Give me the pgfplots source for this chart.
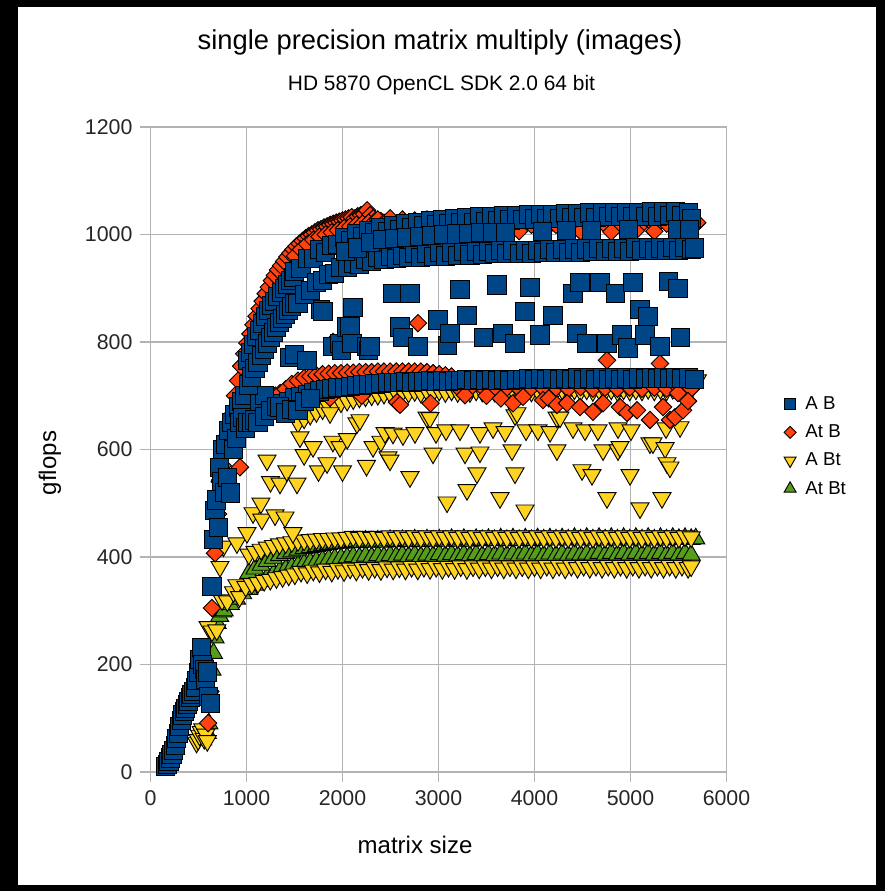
\documentclass[border=0pt]{standalone}
\usepackage{pgfplots}
\pgfplotsset{compat=1.18}
\usepackage{fontspec}
\setmainfont{Liberation Sans}
\definecolor{cAB}{HTML}{004586}
\definecolor{cAtB}{HTML}{FF420E}
\definecolor{cABt}{HTML}{FFD320}
\definecolor{cAtBt}{HTML}{579D1C}
\definecolor{gridc}{HTML}{B3B3B3}
\pgfplotsset{
 sAB/.style={only marks, mark=square*, mark size=6.8pt, mark options={fill=cAB, draw=black, line width=0.7pt}},
 sAtB/.style={only marks, mark=square*, mark size=4.6pt, mark options={rotate=45, fill=cAtB, draw=black, line width=0.7pt}},
 sABt/.style={only marks, mark=triangle*, mark size=7.8pt, mark options={rotate=180, fill=cABt, draw=black, line width=0.7pt}},
 sAtBt/.style={only marks, mark=triangle*, mark size=7.8pt, mark options={fill=cAtBt, draw=black, line width=0.7pt}},
}
\begin{document}
\begin{tikzpicture}
\fill[black] (-112.875pt,-89.25pt) rectangle (550.875pt,579pt);
\fill[white] (-99.375pt,-84.75pt) rectangle (544.125pt,573.75pt);
\begin{axis}[
 at={(0,0)}, anchor=south west,
 scale only axis, width=432pt, height=483.75pt,
 xmin=0, xmax=6000, ymin=0, ymax=1200,
 xtick={0,1000,...,6000}, ytick={0,200,...,1200},
 grid=major, grid style={color=gridc, line width=1pt},
 axis line style={gridc, line width=1pt},
 tick style={gridc, line width=1pt},
 tick align=outside, major tick length=7.5pt,
 xtick pos=bottom, ytick pos=left,
 /pgf/number format/1000 sep={},
 /pgf/number format/assume math mode=true,
 ticklabel style={font=\fontsize{16}{19}\selectfont, text=black!85},
 yticklabel style={xshift=-2.5pt},
 xticklabel style={yshift=-3pt},
 legend cell align=left,
 legend style={at={(1.0995,0.5047)}, anchor=west, draw=none, fill=none, inner sep=0pt,
   font=\fontsize{14}{15}\selectfont, row sep=6pt,
   nodes={inner sep=2pt}, /tikz/every odd column/.append style={column sep=5pt}},
]
\addlegendimage{sAB, mark size=4.2pt}\addlegendentry{A B}
\addlegendimage{sAtB, mark size=3.2pt}\addlegendentry{At B}
\addlegendimage{sABt, mark size=5.2pt}\addlegendentry{A Bt}
\addlegendimage{sAtBt, mark size=5.2pt}\addlegendentry{At Bt}

% ---------------- At Bt (green) ----------------
\addplot[sAtBt, forget plot] coordinates {
(544,60) (560,68) (576,75) (592,72) (608,90) (624,150) (640,190) (656,221) (672,250) (693,277) (720,290) (752,298)
(768,300) (832,312) (896,322) (960,332) (1024,340) (1088,348) (1152,355) (1216,362) (1280,368) (1344,373) (1408,377) (1472,381) (1536,384) (1600,387) (1664,390) (1728,392) (1792,394) (1856,396) (1920,397) (1984,398) (2048,399) (2112,401) (2176,399) (2240,402) (2304,400) (2368,403) (2432,400) (2496,403) (2560,401) (2624,404) (2688,401) (2752,404) (2816,401) (2880,404) (2944,402) (3008,405) (3072,402) (3136,405) (3200,402) (3264,405) (3328,402) (3392,405) (3456,402) (3520,405) (3584,403) (3648,406) (3712,403) (3776,406) (3840,403) (3904,406) (3968,403) (4032,406) (4096,403) (4160,406) (4224,403) (4288,406) (4352,403) (4416,406) (4480,404) (4544,406) (4608,404) (4672,407) (4736,404) (4800,407) (4864,404) (4928,407) (4992,404) (5056,407) (5120,404) (5184,407) (5248,404) (5312,407) (5376,404) (5440,407) (5504,404) (5568,407) (5632,404)
(1024,370) (1088,378) (1152,385) (1216,392) (1280,398) (1344,403) (1408,407) (1472,410) (1536,413) (1600,416) (1664,418) (1728,420) (1792,422) (1856,424) (1920,425) (1984,426) (2048,427) (2112,429) (2176,427) (2240,430) (2304,428) (2368,430) (2432,428) (2496,431) (2560,429) (2624,431) (2688,429) (2752,432) (2816,429) (2880,432) (2944,430) (3008,432) (3072,430) (3136,433) (3200,430) (3264,433) (3328,430) (3392,433) (3456,431) (3520,433) (3584,431) (3648,434) (3712,431) (3776,434) (3840,431) (3904,434) (3968,431) (4032,434) (4096,432) (4160,434) (4224,432) (4288,434) (4352,432) (4416,435) (4480,432) (4544,435) (4608,432) (4672,435) (4736,432) (4800,435) (4864,432) (4928,435) (4992,432) (5056,435) (5120,432) (5184,435) (5248,432) (5312,435) (5376,432) (5440,435) (5504,433) (5568,435) (5632,433) (5680,434)
};

% ---------------- A Bt (yellow) ----------------
\addplot[sABt, forget plot] coordinates {
(480,55) (496,60) (512,68) (528,75) (544,80) (560,62) (576,70) (592,58)
(600,270) (640,262) (690,264) (745,320) (800,318) (864,335) (900,348) (928,326) (992,345) (1056,350) (1120,352) (1184,356) (1248,358) (1312,361) (1376,363) (1440,366)
(1504,368) (1568,373) (1632,370) (1696,375) (1760,372) (1824,377) (1888,373) (1952,378) (2016,374) (2080,379) (2144,375) (2208,380) (2272,376) (2336,380) (2400,376) (2464,381) (2528,377) (2592,381) (2656,377) (2720,382) (2784,377) (2848,382) (2912,378) (2976,382) (3040,378) (3104,382) (3168,378) (3232,383) (3296,378) (3360,383) (3424,379) (3488,383) (3552,379) (3616,383) (3680,379) (3744,383) (3808,379) (3872,383) (3936,379) (4000,383) (4064,379) (4128,384) (4192,379) (4256,384) (4320,379) (4384,384) (4448,380) (4512,384) (4576,380) (4640,384) (4704,380) (4768,384) (4832,380) (4896,384) (4960,380) (5024,384) (5088,380) (5152,384) (5216,380) (5280,384) (5344,380) (5408,384) (5472,380) (5536,384) (5600,380) (5632,383)
(1024,405) (1088,410) (1152,414) (1216,418) (1280,421) (1344,424) (1408,426) (1472,428) (1536,430) (1600,431) (1664,432) (1728,433) (1792,434) (1856,434) (1920,435) (1984,435) (2048,436) (2112,438) (2176,436) (2240,438) (2304,436) (2368,438) (2432,436) (2496,439) (2560,436) (2624,439) (2688,436) (2752,439) (2816,436) (2880,439) (2944,436) (3008,439) (3072,436) (3136,439) (3200,436) (3264,439) (3328,436) (3392,439) (3456,436) (3520,439) (3584,436) (3648,439) (3712,436) (3776,439) (3840,436) (3904,439) (3968,436) (4032,439) (4096,436) (4160,439) (4224,436) (4288,439) (4352,436) (4416,439) (4480,436) (4544,439) (4608,436) (4672,439) (4736,436) (4800,439) (4864,436) (4928,439) (4992,436) (5056,439) (5120,436) (5184,439) (5248,436) (5312,439) (5376,436) (5440,439) (5504,436) (5568,439) (5632,437)
(1536,650) (1600,658) (1664,665) (1728,670) (1792,675) (1856,680) (1920,684) (1984,688) (2048,691) (2112,694) (2176,697) (2240,699) (2304,701) (2368,702) (2432,704) (2496,705) (2560,706) (2624,708) (2688,706) (2752,709) (2816,706) (2880,709) (2944,707) (3008,710) (3072,707) (3136,710) (3200,707) (3264,710) (3328,707) (3392,710) (3456,708) (3520,711) (3584,708) (3648,711) (3712,708) (3776,711) (3840,708) (3904,711) (3968,708) (4032,711) (4096,709) (4160,712) (4224,709) (4288,712) (4352,709) (4416,712) (4480,709) (4544,712) (4608,709) (4672,712) (4736,709) (4800,712) (4864,709) (4928,712) (4992,710) (5056,712) (5120,710) (5184,713) (5248,710) (5312,713) (5376,710) (5440,713) (5504,710) (5568,713) (5632,712) (5696,729)
(724,382) (760,420) (900,426) (1005,445) (1068,482) (1150,500) (1160,470) (1214,580) (1250,540) (1297,478) (1349,537) (1401,474) (1420,560) (1484,445) (1526,537) (1557,623) (1600,590) (1693,605) (1750,560) (1839,575) (1870,668) (1900,615) (1974,605) (2000,560) (2050,620) (2151,649) (2182,655) (2250,570) (2318,605) (2400,615) (2443,631) (2474,586) (2495,580) (2526,630) (2630,627) (2703,549) (2755,631) (2880,660) (2911,659) (2943,593) (2974,631) (3078,636) (3089,502) (3224,636) (3276,593) (3297,525) (3401,556) (3432,631) (3432,595) (3568,640) (3641,510) (3693,633) (3766,599) (3797,664) (3797,556) (3818,668) (3901,487) (3912,636) (4036,636) (4162,633) (4234,660) (4234,599) (4266,660) (4401,640) (4495,562) (4526,636) (4599,553) (4661,636) (4714,599) (4755,510) (4870,640) (4870,599) (4891,605) (4995,553) (5005,636) (5099,491) (5203,612) (5234,612) (5328,510) (5360,603) (5370,640) (5380,575) (5411,567) (5516,642)
};

% ---------------- At B (red) ----------------
\addplot[sAtB, forget plot] coordinates {
(176,14) (240,38) (320,92) (400,128) (480,165) (528,200) (560,210) (600,91) (624,150) (640,305) (672,407) (704,480) (724,543) (932,567) (1193,660) (1250,690) (1300,700) (1350,705)
(720,540) (752,570) (784,600) (816,630) (848,665) (880,700) (912,728) (944,755) (976,778) (1008,798) (1040,815) (1072,832) (1104,848) (1136,862) (1168,876) (1200,890) (1232,902) (1264,914) (1296,924) (1328,934) (1360,942) (1392,950) (1424,958) (1456,965) (1488,972) (1520,978) (1552,983) (1584,988) (1616,993) (1648,997) (1680,1000) (1712,1004) (1744,1008) (1776,1010) (1808,1013) (1840,1015) (1872,1018) (1904,1020) (1936,1022) (1968,1024) (2000,1026) (2032,1028) (2064,1030) (2096,1032) (2128,1030) (2160,1034) (2192,1036) (2224,1038) (2256,1045) (2288,1036) (2320,1030)
(1504,960) (1568,972) (1632,982) (1696,990) (1760,996) (1824,1000) (1888,1004) (1952,1008) (2016,1012) (2080,1015) (2144,1018) (2208,1020) (2272,1022) (2336,1024) (2400,1025)
(2368,1028) (2432,1022) (2496,1030) (2560,1020) (2624,1028) (2688,1018) (2752,1026) (2816,1020) (2880,1028) (2944,1018) (3008,1026) (3072,1020) (3136,1028) (3200,1018) (3264,1026) (3328,1020) (3392,1028) (3456,1018) (3520,1026) (3584,1020) (3648,1028) (3712,1018) (3776,1026) (3840,1020) (3904,1028) (3968,1018) (4032,1026) (4096,1020) (4160,1028) (4224,1018) (4288,1026) (4352,1020) (4416,1028) (4480,1018) (4544,1026) (4608,1020) (4672,1028) (4736,1018) (4800,1026) (4864,1020) (4928,1028) (4992,1018) (5056,1026) (5120,1020) (5184,1028) (5248,1018) (5312,1026) (5376,1020) (5440,1028) (5504,1018) (5568,1026) (5632,1020) (5696,1022)
(3840,1006) (4096,1007) (4480,1006) (4800,1005) (5056,1007) (5248,1006)
(1408,712) (1472,722) (1536,728) (1600,733) (1664,736) (1728,738) (1792,740) (1856,741) (1920,742) (1984,742) (2048,743) (2112,743) (2176,744) (2240,744) (2304,744) (2368,745) (2432,745) (2496,745) (2560,745) (2624,745) (2688,745) (2752,745) (2816,745) (2880,744) (2944,742) (3008,740) (3072,738) (3136,736)
(3200,716) (3328,714) (3456,716) (3584,713) (3712,715) (3840,713) (3968,715) (4096,713) (4224,715) (4352,713) (4480,716) (4608,713) (4736,715) (4864,713) (4992,715) (5120,713) (5248,715) (5376,713) (5504,715) (5632,713)
(1557,673) (1870,696) (1901,800) (2200,700) (2568,688) (2599,683) (2786,835) (2917,686) (3276,701) (3500,700) (3650,695) (3776,686) (3880,698) (4089,692) (4150,695) (4234,683) (4339,686) (4474,679) (4609,670) (4714,686) (4755,766) (4891,679) (4964,668) (5068,673) (5203,655) (5307,760) (5339,679) (5411,655) (5464,660) (5495,705) (5547,673) (5600,690)
};

% ---------------- A B (blue) ----------------
\addplot[sAB, forget plot] coordinates {
(160,10) (176,14) (192,20) (208,26) (224,33) (240,40) (256,50) (272,62) (288,72) (304,84) (320,96) (336,106) (352,112) (368,118) (384,125) (400,132) (416,138) (432,144) (448,150) (464,158) (480,170) (496,185) (512,210) (528,232) (544,200) (560,190) (576,172) (592,186) (608,140) (624,128) (640,345)
(656,432) (672,487) (688,506) (704,455) (720,567) (736,540) (752,600) (768,520) (784,610) (800,548) (816,636) (832,519) (848,650) (864,600) (880,665) (896,620) (912,679) (928,650) (944,690) (960,660) (976,700) (992,640) (1008,650) (1056,650) (1088,655) (1136,690) (1184,700)
(1008,765) (1040,780) (1072,795) (1104,810) (1136,822) (1168,835) (1200,848) (1232,858) (1264,868) (1296,876) (1328,884) (1360,892) (1392,900) (1424,907) (1456,914) (1488,920)
(1024,720) (1056,735) (1088,750) (1120,762) (1152,775) (1184,787) (1216,798) (1248,808) (1280,818) (1312,827) (1344,836) (1376,844) (1408,852) (1440,859) (1472,866) (1504,872)
(1120,650) (1184,662) (1248,672) (1312,680) (1376,686) (1440,690) (1504,696) (1568,699) (1632,703) (1696,706) (1760,709) (1824,711) (1888,713) (1952,715) (2016,716) (2080,718) (2144,719) (2208,720) (2272,721) (2336,722) (2400,723) (2464,724) (2528,724) (2592,725) (2656,726) (2720,725) (2784,727) (2848,726) (2912,728) (2976,727) (3040,729) (3104,727) (3168,729) (3232,728) (3296,730) (3360,728) (3424,730) (3488,729) (3552,731) (3616,729) (3680,731) (3744,729) (3808,731) (3872,730) (3936,732) (4000,730) (4064,732) (4128,730) (4192,732) (4256,730) (4320,732) (4384,731) (4448,733) (4512,731) (4576,733) (4640,731) (4704,733) (4768,731) (4832,733) (4896,731) (4960,733) (5024,731) (5088,733) (5152,732) (5216,733) (5280,732) (5344,733) (5408,732) (5472,733) (5536,732) (5600,733) (5664,730)
(1344,679) (1408,668) (1472,675) (1536,673) (1600,690) (1664,695)
(1453,772) (1500,776) (1630,766) (1766,860) (1797,856) (1901,791) (1974,798) (1990,785) (2047,828) (2078,828) (2099,798) (2109,865) (2255,791) (2266,785) (2286,791) (2516,891) (2599,828) (2630,809) (2703,891) (2786,791) (2995,841) (3089,794) (3120,816) (3224,897) (3297,850) (3464,809) (3609,906) (3672,816) (3797,798) (3901,856) (3953,902) (4057,813) (4193,850) (4401,891) (4443,816) (4474,910) (4547,798) (4682,910) (4755,798) (4839,891) (4911,813) (4974,789) (5026,910) (5099,860) (5151,813) (5182,847) (5307,791) (5391,912) (5495,900) (5516,809)
(1504,932) (1568,937) (1632,955) (1696,956) (1760,972) (1824,967) (1888,979) (1952,981) (2016,994) (2080,988) (2144,1001) (2208,996) (2272,1008) (2336,1003) (2400,1013) (2464,1006) (2528,1017) (2592,1010) (2656,1021) (2720,1013) (2784,1023) (2848,1016) (2912,1026) (2976,1018) (3040,1028) (3104,1020) (3168,1030) (3232,1022) (3296,1031) (3360,1023) (3424,1033) (3488,1024) (3552,1034) (3616,1026) (3680,1035) (3744,1027) (3808,1036) (3872,1028) (3936,1037) (4000,1029) (4064,1038) (4128,1030) (4192,1038) (4256,1030) (4320,1039) (4384,1031) (4448,1039) (4512,1032) (4576,1040) (4640,1032) (4704,1040) (4768,1033) (4832,1041) (4896,1033) (4960,1041) (5024,1034) (5088,1041) (5152,1034) (5216,1042) (5280,1034) (5344,1042) (5408,1035) (5472,1042) (5536,1035) (5600,1040) (5632,1030)
(1536,872) (1600,888) (1664,896) (1728,910) (1792,914) (1856,926) (1920,928) (1984,938) (2048,938) (2112,947) (2176,945) (2240,953) (2304,950) (2368,957) (2432,953) (2496,960) (2560,955) (2624,962) (2688,957) (2752,964) (2816,958) (2880,965) (2944,959) (3008,966) (3072,960) (3136,967) (3200,961) (3264,968) (3328,962) (3392,969) (3456,963) (3520,969) (3584,964) (3648,970) (3712,964) (3776,970) (3840,965) (3904,971) (3968,965) (4032,971) (4096,966) (4160,972) (4224,966) (4288,972) (4352,967) (4416,973) (4480,967) (4544,973) (4608,968) (4672,974) (4736,968) (4800,974) (4864,969) (4928,974) (4992,969) (5056,975) (5120,970) (5184,975) (5248,970) (5312,975) (5376,971) (5440,976) (5504,971) (5568,976) (5632,972) (5664,975)
(2032,968) (2160,975) (2288,985) (2416,990) (2544,992) (2672,995) (2800,997) (2928,998) (3056,1000) (3184,1001) (3312,1002) (3440,1003) (3568,1004) (3696,1004) (4080,1006) (4336,1007) (4592,1008) (4976,1009) (5488,1010) (5616,1010)
};
\end{axis}
\node[anchor=base, font=\fontsize{20.5}{24}\selectfont] at (217.1pt,541.5pt) {single precision matrix multiply (images)};
\node[anchor=base, font=\fontsize{15.7}{19}\selectfont] at (218.25pt,510.75pt) {HD 5870 OpenCL SDK 2.0 64 bit};
\node[anchor=base, font=\fontsize{18}{21}\selectfont] at (198.4pt,-60.75pt) {matrix size};
\node[rotate=90, anchor=center, font=\fontsize{18}{21}\selectfont] at (-75.4pt,231.75pt) {gflops};
\end{tikzpicture}
\end{document}
